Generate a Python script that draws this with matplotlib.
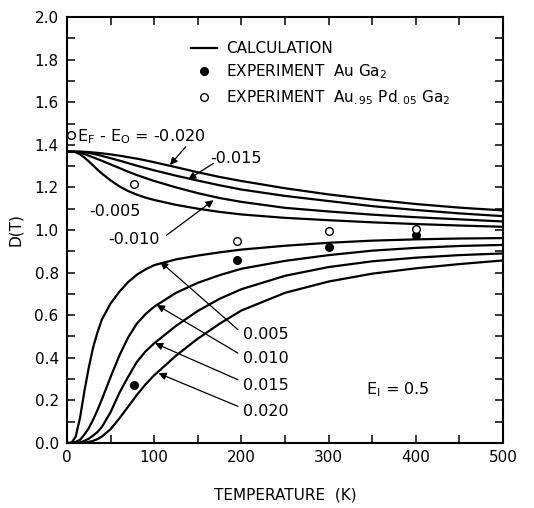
import numpy as np
import matplotlib
matplotlib.use("Agg")
import matplotlib.pyplot as plt
from matplotlib.ticker import MultipleLocator

# temperature grid (K) shared by the calculated curves
temp = [0, 5, 10, 15, 20, 25, 30, 35, 40, 50, 60, 70, 80, 90, 100,
        125, 150, 175, 200, 250, 300, 350, 400, 450, 500]

# calculated D(T), E_F - E_0 < 0 (upper family)
d_m020 = [1.368, 1.368, 1.368, 1.368, 1.367, 1.366, 1.364, 1.362, 1.360, 1.355, 1.349, 1.342, 1.335,
          1.327, 1.318, 1.295, 1.271, 1.249, 1.230, 1.196, 1.167, 1.143, 1.122, 1.105, 1.092]
d_m015 = [1.368, 1.368, 1.368, 1.367, 1.365, 1.362, 1.358, 1.353, 1.348, 1.337, 1.326, 1.314, 1.302,
          1.291, 1.280, 1.255, 1.232, 1.210, 1.190, 1.160, 1.136, 1.112, 1.094, 1.078, 1.065]
d_m010 = [1.368, 1.368, 1.366, 1.362, 1.356, 1.349, 1.341, 1.333, 1.325, 1.308, 1.291, 1.274, 1.258,
          1.244, 1.230, 1.200, 1.173, 1.150, 1.132, 1.104, 1.087, 1.072, 1.060, 1.050, 1.040]
d_m005 = [1.368, 1.368, 1.365, 1.355, 1.340, 1.322, 1.303, 1.283, 1.265, 1.233, 1.205, 1.183, 1.166,
          1.152, 1.141, 1.118, 1.100, 1.085, 1.073, 1.057, 1.046, 1.036, 1.028, 1.021, 1.015]

# calculated D(T), E_F - E_0 > 0 (lower family)
d_p005 = [0.0, 0.0, 0.030, 0.120, 0.245, 0.355, 0.450, 0.520, 0.580, 0.655, 0.710, 0.755, 0.790,
          0.815, 0.835, 0.862, 0.880, 0.895, 0.908, 0.926, 0.940, 0.950, 0.956, 0.960, 0.962]
d_p010 = [0.0, 0.0, 0.005, 0.015, 0.040, 0.070, 0.110, 0.155, 0.205, 0.310, 0.410, 0.495, 0.560,
          0.605, 0.640, 0.705, 0.752, 0.788, 0.818, 0.855, 0.882, 0.903, 0.916, 0.925, 0.930]
d_p015 = [0.0, 0.0, 0.0, 0.003, 0.010, 0.020, 0.035, 0.052, 0.075, 0.145, 0.235, 0.310, 0.380,
          0.430, 0.468, 0.550, 0.620, 0.677, 0.722, 0.785, 0.826, 0.853, 0.870, 0.882, 0.890]
d_p020 = [0.0, 0.0, 0.0, 0.0, 0.002, 0.005, 0.010, 0.018, 0.030, 0.065, 0.115, 0.170, 0.225,
          0.275, 0.318, 0.410, 0.490, 0.560, 0.622, 0.705, 0.758, 0.795, 0.820, 0.840, 0.857]

# experiment
t_auga2 = [77, 195, 300, 400]
d_auga2 = [0.27, 0.86, 0.922, 0.975]
t_aupdga2 = [4.2, 77, 195, 300, 400]
d_aupdga2 = [1.446, 1.214, 0.95, 0.995, 1.004]

FS = 11

fig = plt.figure(figsize=(5.34, 5.08), dpi=100)
ax = fig.add_axes([0.1255, 0.128, 0.8165, 0.8385])

curves = [d_m020, d_m015, d_m010, d_m005, d_p005, d_p010, d_p015, d_p020]
for i, d in enumerate(curves):
    ax.plot(temp, d, color="k", lw=1.6, label="CALCULATION" if i == 0 else None)

ax.plot(t_auga2, d_auga2, "o", color="k", ms=5.5, ls="none",
        label="EXPERIMENT  Au Ga$_\\mathregular{2}$")
ax.plot(t_aupdga2, d_aupdga2, "o", mfc="white", mec="k", mew=1, ms=5.5, ls="none",
        label="EXPERIMENT  Au$_\\mathregular{.95}$ Pd$_\\mathregular{.05}$ Ga$_\\mathregular{2}$")

ax.set_xlim(0, 500)
ax.set_ylim(0, 2.0)
ax.xaxis.set_major_locator(MultipleLocator(100))
ax.xaxis.set_minor_locator(MultipleLocator(50))
ax.yaxis.set_major_locator(MultipleLocator(0.2))
ax.yaxis.set_minor_locator(MultipleLocator(0.1))
ax.yaxis.set_major_formatter(matplotlib.ticker.FormatStrFormatter("%.1f"))
ax.tick_params(which="both", direction="in", top=True, right=True, length=6, width=1.1,
               labelsize=FS)
ax.tick_params(axis="y", pad=6)
ax.tick_params(axis="x", pad=5)
for s in ax.spines.values():
    s.set_linewidth(1.5)

ax.set_xlabel("TEMPERATURE  (K)", fontsize=FS, labelpad=16)
ax.set_ylabel("D(T)", fontsize=FS, labelpad=8)

ax.legend(loc="upper left", bbox_to_anchor=(0.284, 0.944), frameon=False, fontsize=FS,
          handlelength=1.7, handletextpad=0.6, labelspacing=0.45, borderpad=0,
          borderaxespad=0)

arrow = dict(arrowstyle="-|>", color="k", lw=0.9, mutation_scale=11, shrinkA=0, shrinkB=0)

ax.text(12, 1.437, "E$_\\mathregular{F}$ - E$_\\mathregular{O}$ = -0.020", fontsize=FS + 0.5,
        va="center", ha="left")
ax.annotate("", xy=(118, 1.305), xytext=(136, 1.39), arrowprops=arrow)
ax.text(164, 1.338, "-0.015", fontsize=FS + 0.5, va="center", ha="left")
ax.annotate("", xy=(139, 1.238), xytext=(168, 1.313), arrowprops=arrow)
ax.text(26, 1.086, "-0.005", fontsize=FS + 0.5, va="center", ha="left")
ax.text(47, 0.957, "-0.010", fontsize=FS + 0.5, va="center", ha="left")
ax.annotate("", xy=(168, 1.14), xytext=(114, 0.975), arrowprops=arrow)

lower_labels = ["0.005", "0.010", "0.015", "0.020"]
label_y = [0.507, 0.397, 0.272, 0.147]
tips = [(107, 0.851), (103, 0.648), (101, 0.468), (105, 0.327)]
for lab, ly, tip in zip(lower_labels, label_y, tips):
    ax.text(202, ly, lab, fontsize=FS + 0.5, va="center", ha="left")
    ax.annotate("", xy=tip, xytext=(196, ly + 0.025), arrowprops=arrow)

ax.text(343, 0.249, "E$_\\mathregular{I}$ = 0.5", fontsize=FS + 0.5, va="center", ha="left")

fig.savefig("out.png", dpi=100)
